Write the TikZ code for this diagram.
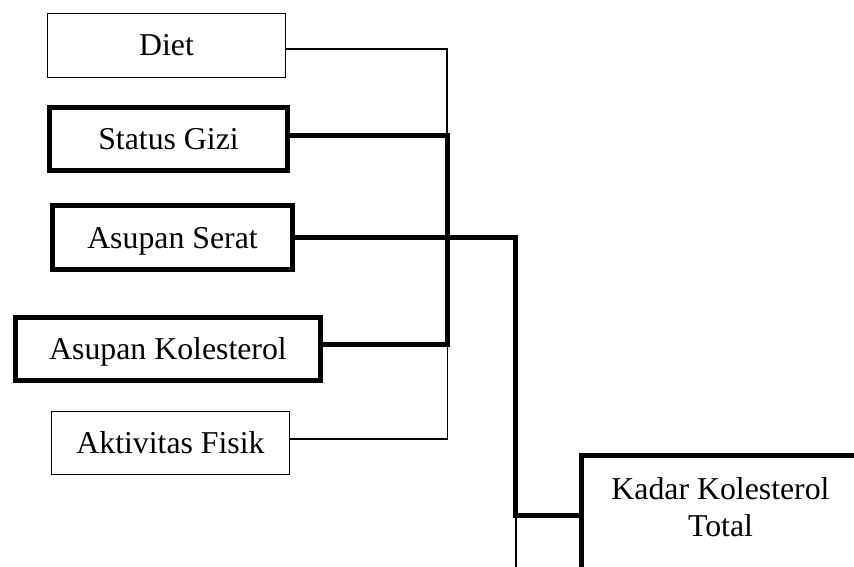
\documentclass[tikz,border=0pt]{standalone}
\usepackage{fontspec}
\setmainfont{Liberation Serif}
\begin{document}
\begin{tikzpicture}[x=1pt,y=-1pt,
  txt/.style={font=\fontsize{31.8}{37}\selectfont},
  thinbox/.style={draw,line width=1.3pt,inner sep=0pt,txt,text height=21pt,text depth=0pt},
  thickbox/.style={draw,line width=5pt,inner sep=0pt,txt,text height=21pt,text depth=0pt},
  thinline/.style={line width=1.3pt},
  thickline/.style={line width=5pt}]
\useasboundingbox (0,0) rectangle (854,567);
\begin{scope}
\clip (0,0) rectangle (854,567);
\node[thinbox,minimum width=238pt,minimum height=64pt] (diet) at (166.5,45.5) {Diet};
\node[thickbox,minimum width=238pt,minimum height=63pt] (gizi) at (168.5,139) {Status Gizi};
\node[thickbox,minimum width=240pt,minimum height=64pt] (serat) at (172.5,237.5) {Asupan Serat};
\node[thickbox,minimum width=305pt,minimum height=63pt] (kol) at (168,349) {Asupan Kolesterol};
\node[thinbox,minimum width=238pt,minimum height=63pt] (akt) at (170.5,443) {Aktivitas Fisik};
\node[draw,line width=5pt,inner sep=0pt,minimum width=278pt,minimum height=150pt] (kadar) at (720.5,530.5) {};
\node[txt,align=center,inner sep=0pt] (kadarlabel) at (720.5,507) {Kadar Kolesterol\\Total};

\coordinate (jd) at (447,49);
\coordinate (js) at (447,136);
\coordinate (jk) at (447,344);
\coordinate (ja) at (447.5,439);
\coordinate (jk2) at (447.5,344);
\coordinate (sr) at (515,237);
\coordinate (sb) at (515,515);
\coordinate (sb2) at (516,515);
\coordinate (send) at (516,580);

\draw[thinline] (diet.east |- jd) -- (jd) -- (js);
\draw[thinline] (jk2) -- (ja) -- (akt.east |- ja);
\draw[thickline] (gizi.east |- js) -- (js) -- (jk) -- (kol.east |- jk);
\draw[thickline] (serat.east |- sr) -- (sr) -- (sb) -- (sb -| kadar.west);
\draw[thinline] (sb2) -- (send);
\end{scope}
\end{tikzpicture}
\end{document}
